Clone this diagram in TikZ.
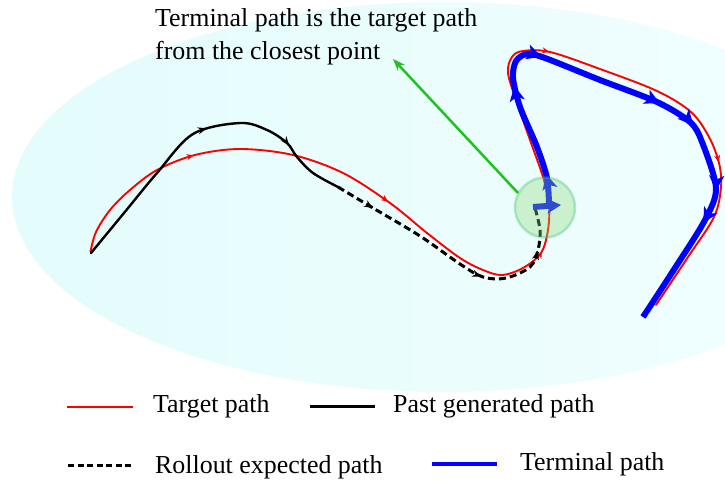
\documentclass[tikz,border=0pt]{standalone}
\usepackage{fontspec}
\setmainfont{Liberation Serif}
\usetikzlibrary{arrows.meta,decorations.markings}
\definecolor{bgA}{RGB}{228,252,252}
\definecolor{bgB}{RGB}{242,254,254}
\definecolor{tred}{RGB}{255,0,0}
\definecolor{tblue}{RGB}{0,0,255}
\definecolor{tgreen}{RGB}{30,195,30}
\definecolor{cfill}{RGB}{140,218,118}
\definecolor{cedge}{RGB}{70,195,130}
\begin{document}
\begin{tikzpicture}[x=1pt,y=-1pt,
  lbl/.style={font=\fontsize{25.9}{30}\selectfont, anchor=base west, inner sep=0pt},
  redpath/.style={draw=tred, line width=1.9pt, line cap=round, line join=round},
  blackpath/.style={draw=black, line width=2.4pt, line cap=round, line join=round},
  rollpath/.style={draw=black, line width=3pt, dash pattern=on 7pt off 4pt},
  bluepath/.style={draw=tblue, line width=6pt, line join=round},
  redtip/.style={postaction={decorate, decoration={markings,
     mark=at position #1 with {\arrow{Stealth[length=7pt,width=6pt]}}}}},
  blacktip/.style={postaction={decorate, solid, decoration={markings,
     mark=at position #1 with {\arrow{Stealth[length=9pt,width=7pt]}}}}},
  bluetip/.style={postaction={decorate, decoration={markings,
     mark=at position #1 with {\arrow{Stealth[length=15pt,width=15pt,inset=4pt]}}}}}
]
\useasboundingbox (0,0) rectangle (725,481);
\begin{scope}
  \clip (0,0) rectangle (725,481);
  \shade[left color=bgA, right color=bgB] (443,197) ellipse [x radius=431, y radius=195];
\end{scope}

% target path (red)
\draw[redpath, redtip=148pt, redtip=355pt, redtip=540pt, redtip=782pt, redtip=995pt]
  plot[smooth, tension=0.55] coordinates {(90.5,251.5) (96,232) (110,210) (130,190) (157,170) (195,155) (240,149) (293,155) (343,173) (390,203) (427,233) (460,258) (483,270) (502,275) (523,268) (541,253) (548,230) (549,203) (543,177) (530,140) (517,103) (508,73) (512,57) (523,51) (550,52) (600,69) (657,91) (691,112) (709,137) (719,163) (721,187) (714,217) (688,257) (656,305)};

% past generated path (black)
\draw[blackpath, blacktip=172pt, blacktip=261pt]
  plot[smooth, tension=0.55] coordinates {(91,253) (124,213) (157,173) (193,134) (240,123) (267,130) (287,143) (297,157) (313,173) (338,187)};

% rollout expected path (dashed)
\draw[rollpath, blacktip=41pt, blacktip=169pt, blacktip=239pt]
  plot[smooth, tension=0.55] coordinates {(338,187) (373,208) (420,236) (460,264) (483,277) (506,278) (530,267) (538,250) (540,230) (535,208)};

% terminal path (blue)
\draw[bluepath, -{Stealth[length=14pt,width=15pt,inset=4pt]}] (533,207) -- (561,205);
\draw[bluepath, line cap=butt, bluetip=30pt, bluetip=124pt, bluetip=178pt, bluetip=305pt, bluetip=345pt, bluetip=415pt, bluetip=450pt]
  plot[smooth, tension=0.5] coordinates {(549,204) (547,178) (537,147) (520,107) (513,78) (516,61) (527,54) (545,58) (600,80) (657,102) (690,122) (702,142) (716,188) (705,220) (675,268) (643,317)};

% closest point
\node[circle, minimum size=60pt, inner sep=0pt, fill=cfill, draw=cedge, line width=2.5pt, opacity=0.35] (closest) at (545,207.5) {};

% annotation
\node[lbl] (note1) at (155,26.7) {Terminal path is the target path};
\node[lbl] (note2) at (155,59.5) {from the closest point};
\coordinate (gstart) at (518,193);
\coordinate (gend) at (393,59);
\draw[tgreen, line width=2.5pt, -{Stealth[length=12pt,width=9pt]}] (gstart) -- (gend);

% legend
\coordinate (l1a) at (67,407); \coordinate (l1b) at (133,407);
\draw[tred, line width=2.6pt] (l1a) -- (l1b);
\node[lbl] (leg1) at (153,412) {Target path};
\coordinate (l2a) at (310,406); \coordinate (l2b) at (375,406);
\draw[black, line width=3pt] (l2a) -- (l2b);
\node[lbl] (leg2) at (393,412) {Past generated path};
\coordinate (l3a) at (68,465); \coordinate (l3b) at (133,465);
\draw[black, line width=3pt, dash pattern=on 6pt off 3.5pt] (l3a) -- (l3b);
\node[lbl] (leg3) at (155,473) {Rollout expected path};
\coordinate (l4a) at (432,464); \coordinate (l4b) at (497,464);
\draw[tblue, line width=3.2pt] (l4a) -- (l4b);
\node[lbl] (leg4) at (520,470) {Terminal path};
\end{tikzpicture}
\end{document}
